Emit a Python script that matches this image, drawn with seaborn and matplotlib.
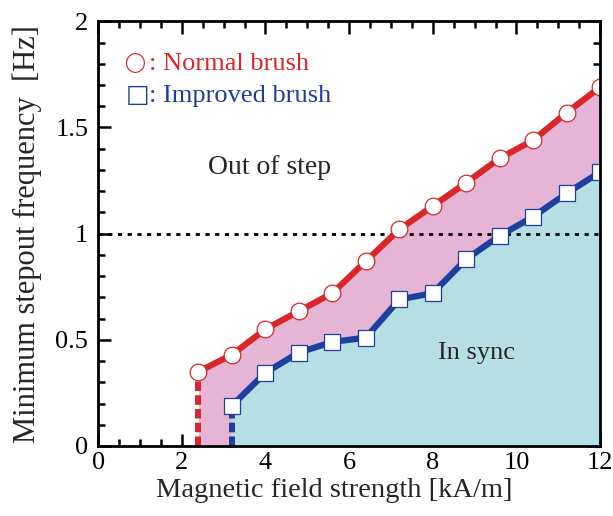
import numpy as np
import pandas as pd
import matplotlib
matplotlib.use('Agg')
import matplotlib.pyplot as plt
import seaborn as sns
from matplotlib.ticker import MultipleLocator

# field strength [kA/m]
normal_x = [2.4, 3.2, 4.0, 4.8, 5.6, 6.4, 7.2, 8.0, 8.8, 9.6, 10.4, 11.2, 12.0]
normal_y = [0.35, 0.43, 0.55, 0.635, 0.72, 0.87, 1.02, 1.13, 1.24, 1.355, 1.44, 1.57, 1.69]
improved_x = [3.2, 4.0, 4.8, 5.6, 6.4, 7.2, 8.0, 8.8, 9.6, 10.4, 11.2, 12.0]
improved_y = [0.19, 0.345, 0.44, 0.49, 0.51, 0.69, 0.72, 0.88, 0.99, 1.08, 1.19, 1.29]

RED = '#d9262b'
BLUE = '#1f3f9f'
PINK = '#e6b5d5'
CYAN = '#b6dfe4'

sns.set_style('ticks')
plt.rcParams['font.family'] = ['Liberation Serif', 'DejaVu Serif']

fig = plt.figure(figsize=(6.13, 5.16), dpi=100)
ax = fig.add_axes([0.16, 0.1357, 0.819, 0.823])

nx = np.array(normal_x)
ny = np.array(normal_y)
ix = np.array(improved_x)
iy = np.array(improved_y)

# pink band under normal curve, cyan under improved curve
ax.fill_between(nx, 0, ny, color=PINK, lw=0, zorder=1)
ax.fill_between(ix, 0, iy, color=CYAN, lw=0, zorder=2)

# dashed drop lines to the axis
ax.plot([nx[0], nx[0]], [0, ny[0]], color=RED, lw=4.3, ls=(0, (1.6, 0.7)), zorder=3)
ax.plot([ix[0], ix[0]], [0, iy[0]], color=BLUE, lw=4.3, ls=(0, (1.6, 0.7)), zorder=3)

df_n = pd.DataFrame({'H': normal_x, 'f': normal_y})
df_i = pd.DataFrame({'H': improved_x, 'f': improved_y})
sns.lineplot(data=df_n, x='H', y='f', ax=ax, color=RED, lw=4.5, marker='o',
             markersize=12, markerfacecolor='white', markeredgecolor=RED,
             markeredgewidth=0.9, zorder=5)
sns.lineplot(data=df_i, x='H', y='f', ax=ax, color=BLUE, lw=4.5, marker='s',
             markersize=11.5, markerfacecolor='white', markeredgecolor=BLUE,
             markeredgewidth=0.9, zorder=5)

ax.axhline(1.0, color='black', ls=(0, (1.5, 2)), lw=2.0, zorder=4)

ax.set_xlim(0, 12)
ax.set_ylim(0, 2)
ax.xaxis.set_major_locator(MultipleLocator(2))
ax.xaxis.set_minor_locator(MultipleLocator(0.5))
ax.yaxis.set_major_locator(MultipleLocator(0.5))
ax.yaxis.set_minor_locator(MultipleLocator(0.1))
ax.set_yticks([0, 0.5, 1, 1.5, 2])
ax.set_yticklabels(['0', '0.5', '1', '1.5', '2'])
ax.tick_params(which='both', direction='in', top=True, right=True, labelsize=19,
               width=1.8, colors='black')
ax.tick_params(which='major', length=9)
ax.tick_params(which='minor', length=5)
ax.tick_params(axis='x', pad=4)
ax.tick_params(axis='y', pad=7)
for s in ax.spines.values():
    s.set_linewidth(2.0)
    s.set_color('black')
    s.set_zorder(10)

ax.set_xlabel('Magnetic field strength [kA/m]', fontsize=20.5)
ax.set_ylabel('Minimum stepout frequency  [Hz]', fontsize=22)
ax.xaxis.set_label_coords(0.47, -0.075)
ax.yaxis.set_label_coords(-0.112, 0.5)

# hand-written legend: symbol glyph followed by text
sym = ['DejaVu Sans']
ax.text(0.64, 1.805, '◯', color=RED, fontsize=13.5, va='center', family=sym, zorder=6)
ax.text(1.22, 1.8, ': Normal brush', color=RED, fontsize=19, va='center', zorder=6)
ax.text(0.66, 1.652, '□', color=BLUE, fontsize=18, va='center', family=sym, zorder=6)
ax.text(1.22, 1.65, ': Improved brush', color=BLUE, fontsize=19, va='center', zorder=6)

ax.text(4.1, 1.31, 'Out of step', fontsize=20, ha='center', va='center', zorder=6)
ax.text(9.05, 0.44, 'In sync', fontsize=19, ha='center', va='center', zorder=6)

fig.savefig('out.png', dpi=100)
